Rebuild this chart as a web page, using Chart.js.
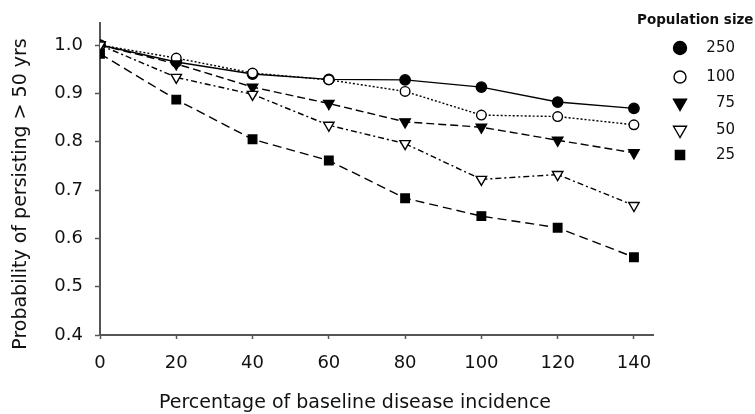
<!DOCTYPE html>
<html lang="en">

<head>
    <meta charset="UTF-8">
    <title>Persistence vs disease incidence</title>
    <script src="https://cdn.jsdelivr.net/npm/chart.js"></script>
    <style>
        * {
            margin: 0;
            padding: 0;
            box-sizing: border-box;
        }

        body {
            background-color: #ffffff;
            width: 755px;
            height: 414px;
            overflow: hidden;
        }

        #wrap {
            width: 755px;
            height: 414px;
        }
    </style>
</head>

<body>
    <div id="wrap"><canvas id="persistChart"></canvas></div>

    <script>
        // Percentage of baseline disease incidence
        const incidence = [0, 20, 40, 60, 80, 100, 120, 140];

        // Probability of persisting > 50 yrs, one list per population size
        const pop250 = [1.0, 0.965, 0.94, 0.929, 0.928, 0.913, 0.882, 0.869];
        const pop100 = [1.0, 0.973, 0.942, 0.928, 0.904, 0.855, 0.852, 0.835];
        const pop75 = [1.0, 0.961, 0.913, 0.879, 0.841, 0.830, 0.803, 0.777];
        const pop50 = [1.0, 0.933, 0.898, 0.834, 0.796, 0.722, 0.732, 0.668];
        const pop25 = [0.982, 0.887, 0.805, 0.761, 0.683, 0.646, 0.622, 0.561];

        const yTicks = [0.4, 0.5, 0.6, 0.7, 0.8, 0.9, 1.0];
        const xTicks = [0, 20, 40, 60, 80, 100, 120, 140];

        const FONT = "'DejaVu Sans', Verdana, sans-serif";
        const AXIS_GREY = '#555555';
        const TEXT = '#111111';

        function series(label, values, style, rotation, filled, dash, radius, legendRadius) {
            return {
                label: label,
                data: incidence.map((x, i) => ({ x: x, y: values[i] })),
                borderColor: '#000000',
                borderWidth: 1.4,
                borderDash: dash,
                pointStyle: style,
                pointRotation: rotation,
                pointRadius: radius,
                pointBorderWidth: 1.4,
                pointBorderColor: '#000000',
                pointBackgroundColor: filled ? '#000000' : '#ffffff',
                legendRadius: legendRadius,
                tension: 0,
                fill: false
            };
        }

        const datasets = [
            series('25', pop25, 'rect', 0, true, [9, 5], 6, 6.5),
            series('50', pop50, 'triangle', 180, false, [6, 3, 2, 3], 6, 7.5),
            series('75', pop75, 'triangle', 180, true, [8, 4], 6, 7.5),
            series('100', pop100, 'circle', 0, false, [2, 2], 4.8, 6),
            series('250', pop250, 'circle', 0, true, [], 5.2, 6.5)
        ];

        // axis titles and the side legend, drawn by hand
        const annotations = {
            id: 'annotations',
            afterDraw(chart) {
                const ctx = chart.ctx;
                ctx.save();
                ctx.fillStyle = TEXT;
                ctx.textBaseline = 'middle';
                ctx.textAlign = 'center';
                ctx.font = '19px ' + FONT;
                ctx.fillText('Percentage of baseline disease incidence', 355, 403);

                ctx.save();
                ctx.translate(21, 194);
                ctx.rotate(-Math.PI / 2);
                ctx.fillText('Probability of persisting > 50 yrs', 0, 0);
                ctx.restore();

                ctx.font = 'bold 13.5px ' + FONT;
                ctx.textAlign = 'left';
                ctx.fillText('Population size', 637, 20);

                const order = ['250', '100', '75', '50', '25'];
                const rows = [48, 77, 103, 130, 155];
                order.forEach((lbl, i) => {
                    const ds = chart.data.datasets.find(d => d.label === lbl);
                    ctx.fillStyle = ds.pointBackgroundColor;
                    ctx.strokeStyle = '#000000';
                    ctx.lineWidth = 1.4;
                    ctx.setLineDash([]);
                    Chart.helpers.drawPoint(ctx, {
                        pointStyle: ds.pointStyle,
                        rotation: ds.pointRotation,
                        radius: ds.legendRadius,
                        borderWidth: 1.4
                    }, 680, rows[i]);
                    ctx.fillStyle = TEXT;
                    ctx.font = '15px ' + FONT;
                    ctx.textAlign = 'right';
                    ctx.fillText(lbl, 735, rows[i]);
                });
                ctx.restore();
            }
        };

        new Chart(document.getElementById('persistChart'), {
            type: 'line',
            data: { datasets: datasets },
            plugins: [annotations],
            options: {
                responsive: true,
                maintainAspectRatio: false,
                animation: false,
                layout: {
                    padding: { left: 0, right: 102, top: 12, bottom: 0 }
                },
                plugins: {
                    legend: { display: false },
                    tooltip: { enabled: false }
                },
                scales: {
                    x: {
                        type: 'linear',
                        min: 0,
                        max: 145,
                        afterBuildTicks: s => { s.ticks = xTicks.map(v => ({ value: v })); },
                        afterFit: s => { s.height = 79; },
                        grid: {
                            drawOnChartArea: false,
                            color: AXIS_GREY,
                            tickLength: 4,
                            tickWidth: 1.5
                        },
                        border: { color: AXIS_GREY, width: 2 },
                        ticks: {
                            color: TEXT,
                            padding: 14,
                            font: { family: FONT, size: 18 }
                        }
                    },
                    y: {
                        type: 'linear',
                        min: 0.4,
                        max: 1.046,
                        afterBuildTicks: s => { s.ticks = yTicks.map(v => ({ value: v })); },
                        afterFit: s => { s.width = 100; },
                        grid: {
                            drawOnChartArea: false,
                            color: AXIS_GREY,
                            tickLength: 5,
                            tickWidth: 1.5
                        },
                        border: { color: AXIS_GREY, width: 2 },
                        ticks: {
                            color: TEXT,
                            padding: 12,
                            font: { family: FONT, size: 18 },
                            callback: v => v.toFixed(1)
                        }
                    }
                }
            }
        });
    </script>
</body>

</html>
